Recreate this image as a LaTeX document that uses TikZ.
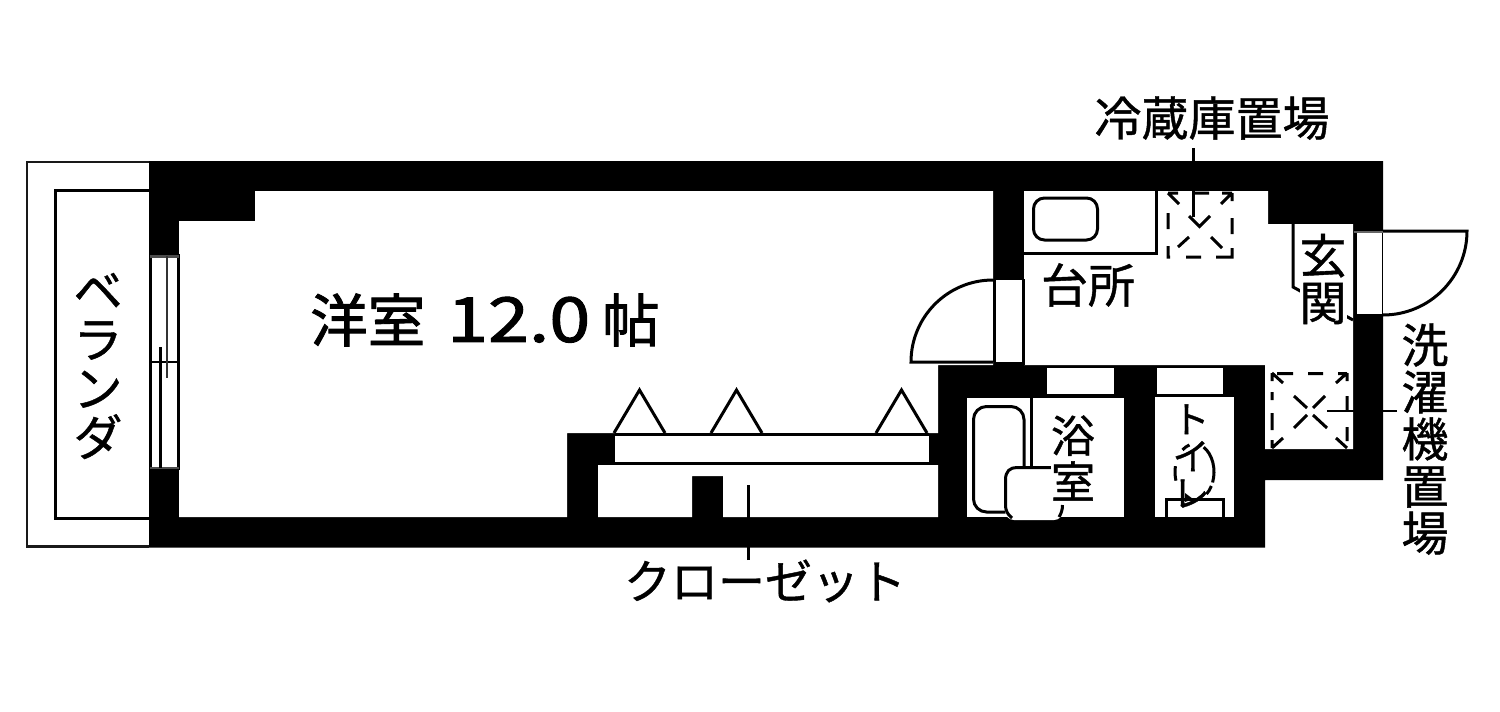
\documentclass[tikz,border=0pt]{standalone}
\usepackage{fontspec}
\newfontfamily\jp[FakeBold=0.9]{Noto Sans CJK JP}
\newfontfamily\jpb[FakeBold=1.6]{Noto Sans CJK JP}
\tikzset{
  wall/.style={fill=black,draw=none},
  room/.style={fill=white,draw=none},
  ln/.style={draw=black,line width=3pt},
  thin ln/.style={draw=black,line width=2.4pt},
  dsh/.style={draw=black,line width=3pt},
  lab/.style={inner sep=0pt,align=center,text=black},
  lab47/.style={lab,font=\jp\fontsize{47pt}{47pt}\selectfont},
  lab44/.style={lab,font=\jp\fontsize{44pt}{46pt}\selectfont},
  lab37/.style={lab,font=\jp\fontsize{37pt}{37pt}\selectfont},
  lab48/.style={lab,font=\jp\fontsize{49pt}{49pt}\selectfont},
}
\begin{document}
\begin{tikzpicture}[x=1pt,y=-1pt]
\useasboundingbox (0,0) rectangle (1500,712);
% balcony
\draw[line width=2.8pt,draw=black!90] (149,162) -- (27,162) -- (27,546.5) -- (149,546.5);
\draw[ln] (149,190.5) -- (55,190.5) -- (55,518) -- (149,518);
% outer wall mass
\fill[wall] (149,161) -- (1383,161) -- (1383,480) -- (1265,480) -- (1265,547.5) -- (149,547.5) -- cycle;
% main room
\fill[room] (179,221) -- (255,221) -- (255,191) -- (993,191) -- (993,365) -- (938,365) -- (938,433) -- (567,433) -- (567,517) -- (179,517) -- cycle;
% kitchen + entry + washer
\fill[room] (1024,191) -- (1268,191) -- (1268,224) -- (1353,224) -- (1353,449) -- (1265,449) -- (1265,365) -- (1024,365) -- cycle;
% closet
\fill[room] (598,465) -- (938,465) -- (938,517) -- (723,517) -- (723,476) -- (692,476) -- (692,517) -- (598,517) -- cycle;
\fill[room] (615,436) rectangle (929,462);
\draw[ln] (615,434.5) -- (929,434.5);
\draw[line width=2.4pt] (598,464) -- (938,464);
% hangers
\foreach \a in {614,711,876}{
  \draw[ln,line join=miter] (\a,433) -- (\a+25.5,390) -- (\a+51,433);
}
% bath and toilet rooms
\fill[room] (967,398) rectangle (1124,517);
\fill[room] (1155,397) rectangle (1234,517);
% small windows
\fill[room] (1047,368) rectangle (1113.5,393.5);
\fill[room] (1157,368) rectangle (1223,393.5);
% west window
\fill[room] (150,255) rectangle (179,469);
\draw[ln] (150.5,254) -- (150.5,470);
\draw[ln] (178,254) -- (178,470);
\draw[thin ln,draw=black!70] (150,256.5) -- (179,256.5);
\draw[thin ln,draw=black!70] (150,468) -- (179,468);
\draw[thin ln] (150,362) -- (179,362);
\draw[line width=2.6pt,draw=black!80] (167,256) -- (167,378);
\draw[ln] (160.5,347) -- (160.5,468);
% inner door
\fill[room] (993,280) rectangle (1024,362);
\draw[ln] (994,279) -- (994,362);
\draw[ln] (1023.5,279) -- (1023.5,365);
\fill[room] (993,280) arc[start angle=90,end angle=180,radius=82pt] -- cycle;
\draw[ln] (993,280) arc[start angle=90,end angle=180,radius=82pt] -- (993,362);
% entrance door
\fill[room] (1354,232) rectangle (1383,314);
\draw[ln] (1355,231) -- (1355,314);
\draw[ln] (1383,231) -- (1383,314);
\draw[thin ln,draw=black!60] (1354,232) -- (1383,232);
\fill[room] (1383,231) -- (1467,231) arc[start angle=0,end angle=-90,radius=84pt] -- cycle;
\draw[ln] (1383,231) -- (1467,231) arc[start angle=0,end angle=-90,radius=84pt];
% entry step
\draw[ln] (1293,224) -- (1293,287) -- (1353,320);
% kitchen counter
\draw[ln] (1024,253.5) -- (1156,253.5) -- (1156,191);
\draw[ln,rounded corners=11pt] (1033.5,198) rectangle (1097.5,240);
% fridge place
\draw[dsh]
 (1168,193) -- (1179,204) (1232,193) -- (1221,204)
 (1189,216) -- (1199.5,226.5) -- (1210,216)
 (1178,247) -- (1189,237) (1222,248) -- (1211,237)
 (1168,193) -- (1178,193) (1195,193) -- (1209,193) (1222,193) -- (1232,193)
 (1168,213) -- (1168,229) (1168,246) -- (1168,257) -- (1170,257)
 (1232,193) -- (1232,201) (1232,218) -- (1232,234) (1232,248) -- (1232,257) -- (1216,257)
 (1186,257) -- (1201,257);
% washer place
\draw[dsh]
 (1272,373) -- (1283,383) (1347,373) -- (1336,383)
 (1294,396) -- (1307,408) (1325,396) -- (1313,408)
 (1307,415) -- (1294,428) (1313,415) -- (1327,428)
 (1283,438) -- (1272,448) (1336,438) -- (1347,448)
 (1277,373.5) -- (1293,373.5) (1308,373.5) -- (1323,373.5) (1338,373.5) -- (1347,373.5)
 (1272,373) -- (1272,381) (1272,392) -- (1272,400) (1272,413) -- (1272,430) (1272,440) -- (1272,448)
 (1347,373) -- (1347,381) (1347,396) -- (1347,411) (1347,427) -- (1347,441);
% tub
\draw[ln] (1031,398) -- (1031,468);
\draw[ln,rounded corners=13pt] (973.5,406.5) rectangle (1024,512);
% basin
\fill[room,rounded corners=9pt] (1005,467) -- (1063,467) -- (1063,520) -- (1005,520) -- cycle;
\draw[ln] (1012,518) .. controls (1007,514) and (1005.5,510) .. (1005.5,505) -- (1005.5,480) .. controls (1005.5,471) and (1010,467.5) .. (1017,467.5) -- (1052,467.5);
\draw[ln] (1062.5,505) .. controls (1062.5,510) and (1061,514) .. (1059,517);
% toilet
\draw[ln] (1166.5,517) -- (1166.5,499) -- (1223,499) -- (1223,517);
\coordinate (bowl) at (1194.5,472);
\draw[ln] (bowl) ++(62:19.5pt and 28pt) arc[start angle=62,end angle=-22,x radius=19.5pt,y radius=28pt];
\draw[ln] (bowl) ++(-30:19.5pt and 28pt) arc[start angle=-30,end angle=-52,x radius=19.5pt,y radius=28pt];
\draw[ln] (bowl) ++(168:19.5pt and 28pt) arc[start angle=168,end angle=198,x radius=19.5pt,y radius=28pt];
\draw[ln] (bowl) ++(128:19.5pt and 28pt) arc[start angle=128,end angle=105,x radius=19.5pt,y radius=28pt];
\fill (1185,493) -- (1193,499) -- (1185,502) -- cycle;
% labels
\node[lab,font=\jpb\fontsize{57.5pt}{57.5pt}\selectfont] (yoshitsu) at (485,320) {洋室\hspace{22pt}\scalebox{1.28}[1.08]{12.0}\hspace{12pt}帖};
\node[lab47] (fridge) at (1212,118) {冷蔵庫置場};
\node[lab47] (washer) at (1425,439) {洗\\濯\\機\\置\\場};
\node[lab47] (kitchen) at (1088,285) {台所};
\node[lab47,fill=white] (genkan) at (1323,279) {玄\\関};
\node[lab44,fill=white] (bath) at (1073,458) {浴\\室};
\node[lab37] (toilet) at (1191,456) {ト\\イ\\レ};
\node[lab48] (veranda) at (98,366) {ベ\\ラ\\ン\\ダ};
\node[lab47] (closet) at (765,581) {クローゼット};
% leaders
\coordinate (fridgeend) at (1193.5,217);
\coordinate (washerend) at (1327,411);
\coordinate (closetend) at (748.5,485);
\draw[thin ln] (1193.5,148) -- (fridgeend);
\draw[thin ln] (1397,411) -- (washerend);
\draw[thin ln] (748.5,560) -- (closetend);
\end{tikzpicture}
\end{document}
